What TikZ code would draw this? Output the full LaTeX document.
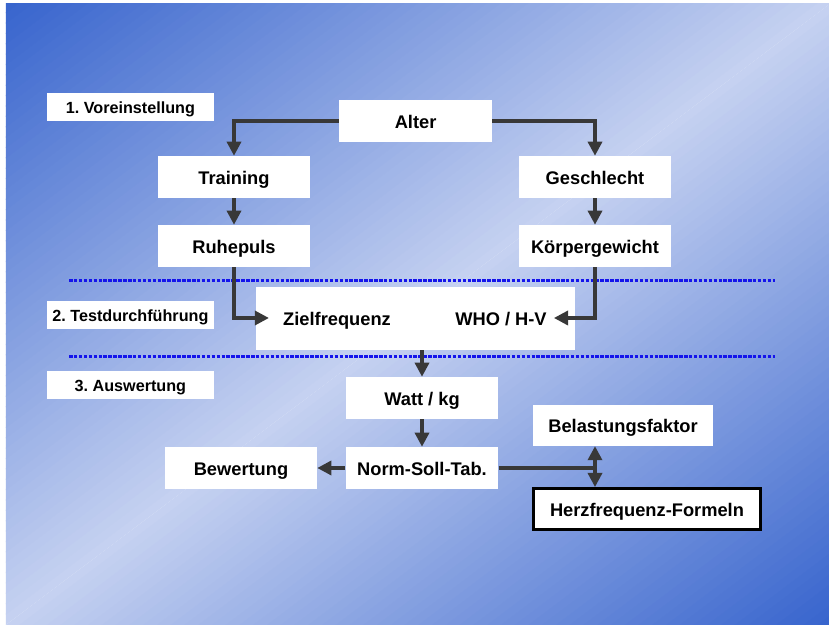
\documentclass[tikz,border=0pt]{standalone}
\usepackage{fontspec}
\setmainfont{Liberation Sans}
\usetikzlibrary{arrows.meta, calc}
\frenchspacing

\definecolor{bgdark}{RGB}{55,100,205}
\definecolor{bglight}{RGB}{198,210,241}
\definecolor{arrowgray}{RGB}{56,56,56}
\definecolor{sepblue}{RGB}{20,20,235}

\tikzset{
  txt/.style={font=\fontsize{13}{15}\selectfont\bfseries, text height=10pt, text depth=0pt},
  box/.style={txt, fill=white, minimum width=3.8cm, minimum height=1.05cm, inner sep=0pt},
  phase/.style={fill=white, minimum width=4.175cm, minimum height=0.7cm, inner sep=0pt,
    font=\fontsize{11.5}{13}\selectfont\bfseries, text height=8.6pt, text depth=0pt},
  arr/.style={draw=arrowgray, line width=2.3pt, -{Triangle[length=10pt,width=10pt]}},
  link/.style={draw=arrowgray, line width=2.3pt},
  sep/.style={draw=sepblue, line width=1.8pt, dash pattern=on 2.5pt off 1pt}
}

\begin{document}
\begin{tikzpicture}
		% Background (diagonal gradient in strips)
		\useasboundingbox (0,0) rectangle (20.725,15.625);
		\fill[white] (0,0) rectangle (20.725,15.625);
		\begin{scope}
			\clip (0.15,0) rectangle (20.725,15.525);
			\begin{scope}[shift={(10.44,7.76)}, rotate=37]
				\foreach \i in {0,...,59} {
					\pgfmathsetmacro\p{100*(\i+0.5)/60}
					\fill[bgdark!\p!bglight] (-15,{\i*0.207}) rectangle (15,{(\i+1)*0.207+0.02});
					\fill[bgdark!\p!bglight] (-15,{-\i*0.207}) rectangle (15,{-(\i+1)*0.207-0.02});
				}
			\end{scope}
		\end{scope}
		
		% Phase labels
		\node[phase] (ph1) at (3.26,12.95) {1. Voreinstellung};
		\node[phase] (ph2) at (3.26,7.75) {2. Testdurchführung};
		\node[phase] (ph3) at (3.26,6.0) {3. Auswertung};
		
		% Separators
		\draw[sep] (1.725,8.61) -- (19.375,8.61);
		\draw[sep] (1.725,6.71) -- (19.375,6.71);
		
		% Voreinstellung
		\node[box, minimum width=3.825cm] (alter) at (10.39,12.6) {Alter};
		\node[box] (training) at (5.85,11.2) {Training};
		\node[box] (geschlecht) at (14.875,11.2) {Geschlecht};
		\node[box] (ruhepuls) at (5.85,9.475) {Ruhepuls};
		\node[box] (gewicht) at (14.875,9.475) {Körpergewicht};
		
		% Testdurchfuehrung
		\node[box, minimum width=7.975cm, minimum height=1.575cm] (test) at (10.39,7.66) {};
		\node[txt, inner xsep=0.35cm] (ziel) at (8.425,7.675) {Zielfrequenz};
		\node[txt, inner xsep=0.175cm] (who) at (12.525,7.675) {WHO / H-V};
		
		% Auswertung
		\node[box, minimum width=3.8125cm] (watt) at (10.55,5.675) {Watt / kg};
		\node[box, minimum width=4.5cm, minimum height=1.025cm] (belastung) at (15.575,4.99) {Belastungsfaktor};
		\node[box] (bewertung) at (6.025,3.925) {Bewertung};
		\node[box, minimum width=3.8125cm] (norm) at (10.55,3.925) {Norm-Soll-Tab.};
		\node[box, draw=black, line width=2.1pt, minimum width=5.675cm, minimum height=1.025cm]
		(herz) at (16.175,2.9) {Herzfrequenz-Formeln};
		
		% Connectors
		\draw[arr] (alter.west) -| (training.north);
		\draw[arr] (alter.east) -| (geschlecht.north);
		\draw[arr] (training) -- (ruhepuls);
		\draw[arr] (geschlecht) -- (gewicht);
		\draw[arr] (ruhepuls.south) |- (ziel.west);
		\draw[arr] (gewicht.south) |- (who.east);
		\draw[arr] (test.south -| watt.north) -- (watt.north);
		\draw[arr] (watt) -- (norm);
		\draw[arr] (norm) -- (bewertung);
		\coordinate (knoten) at (norm.east -| geschlecht.south);
		\draw[link] (norm.east) -- (knoten);
		\draw[arr] (knoten) -- (knoten |- belastung.south);
		\draw[arr] (knoten) -- (knoten |- herz.north);
		
	\end{tikzpicture}
\end{document}
